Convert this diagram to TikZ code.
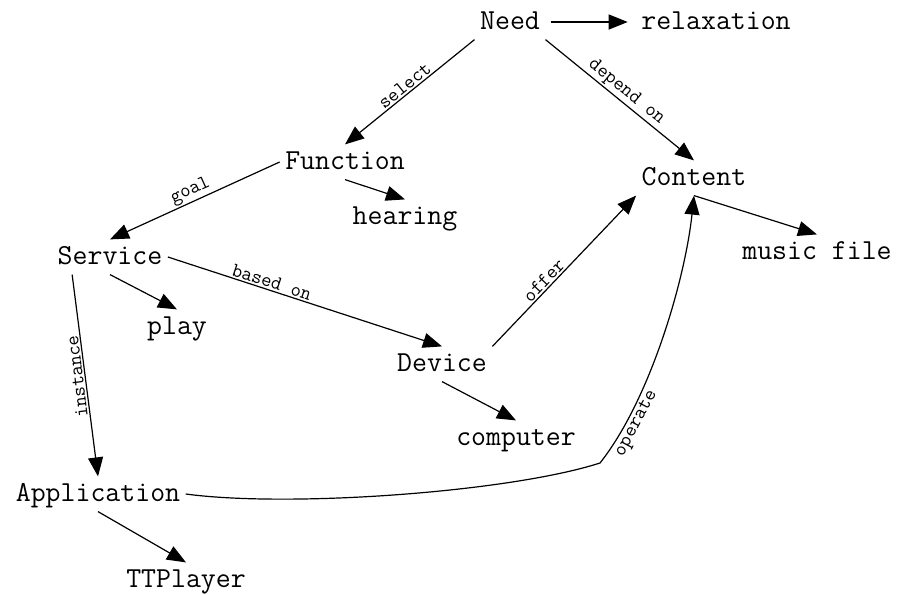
\documentclass[tikz,border=0pt]{standalone}
\usetikzlibrary{arrows.meta}

\begin{document}
\begin{tikzpicture}
[x=1pt, y=-1pt, > = {Triangle[length=19pt,width=15pt]}, line width=1.2pt,
concept/.style ={font=\ttfamily\fontsize{29}{34}\selectfont,
inner sep=5pt, text height=19pt, text depth=5pt},
rel/.style ={font=\ttfamily\fontsize{20}{24}\selectfont,
inner sep=1.5pt, sloped, above},
]
\useasboundingbox (0,0) rectangle (898,595);

% concepts
\node [concept] (need) at (510,22) {Need};
\node [concept] (relax) at (716,22) {relaxation};
\node [concept] (func) at (345,162) {Function};
\node [concept] (content) at (694,178) {Content};
\node [concept] (hear) at (405,217) {hearing};
\node [concept] (serv) at (110,257) {Service};
\node [concept] (music) at (817,252) {music file};
\node [concept] (play) at (177,327) {play};
\node [concept] (dev) at (442,364) {Device};
\node [concept] (comp) at (516,438) {computer};
\node [concept] (app) at (98,494) {Application};
\node [concept] (tt) at (186,580) {TTPlayer};

% relations
 \draw[->, shorten <=6pt, shorten >=8pt] (need.east) -- (relax.west);
 \draw[->] (need.south west) -- (func.north) node [rel, midway] {select};
 \draw[->] (need.south east) -- (content.north) node [rel, midway] {depend on};
 \draw[->] (func.west) -- (serv.north) node [rel, midway] {goal};
 \draw[->] (func.south) -- (hear.north);
 \draw[->] (content.south) -- (music.north);
 \draw[->] (serv.south) -- (play.north);
 \draw[->] (serv.east) -- (dev.north) node [rel, pos=0.37] {based on};
 \draw[->] ([xshift=20pt]serv.south west) -- (app.north)
   node [midway, anchor=south, rotate=97, inner sep=1.5pt,
   font=\ttfamily\fontsize{20}{24}\selectfont] {instance};
 \draw[->] (dev.north east) -- (content.south west) node [rel, pos=0.4] {offer};
 \draw[->] (dev.south) -- (comp.north);
 \draw[->] (app.south) -- (tt.north);
 \draw[->] (app.east) .. controls (290,508) and (510,492) .. (600,463)
   .. controls (650,400) and (685,280) .. (content.south)
   node [rel, pos=0.2, below] {operate};
\end{tikzpicture}
\end{document}
